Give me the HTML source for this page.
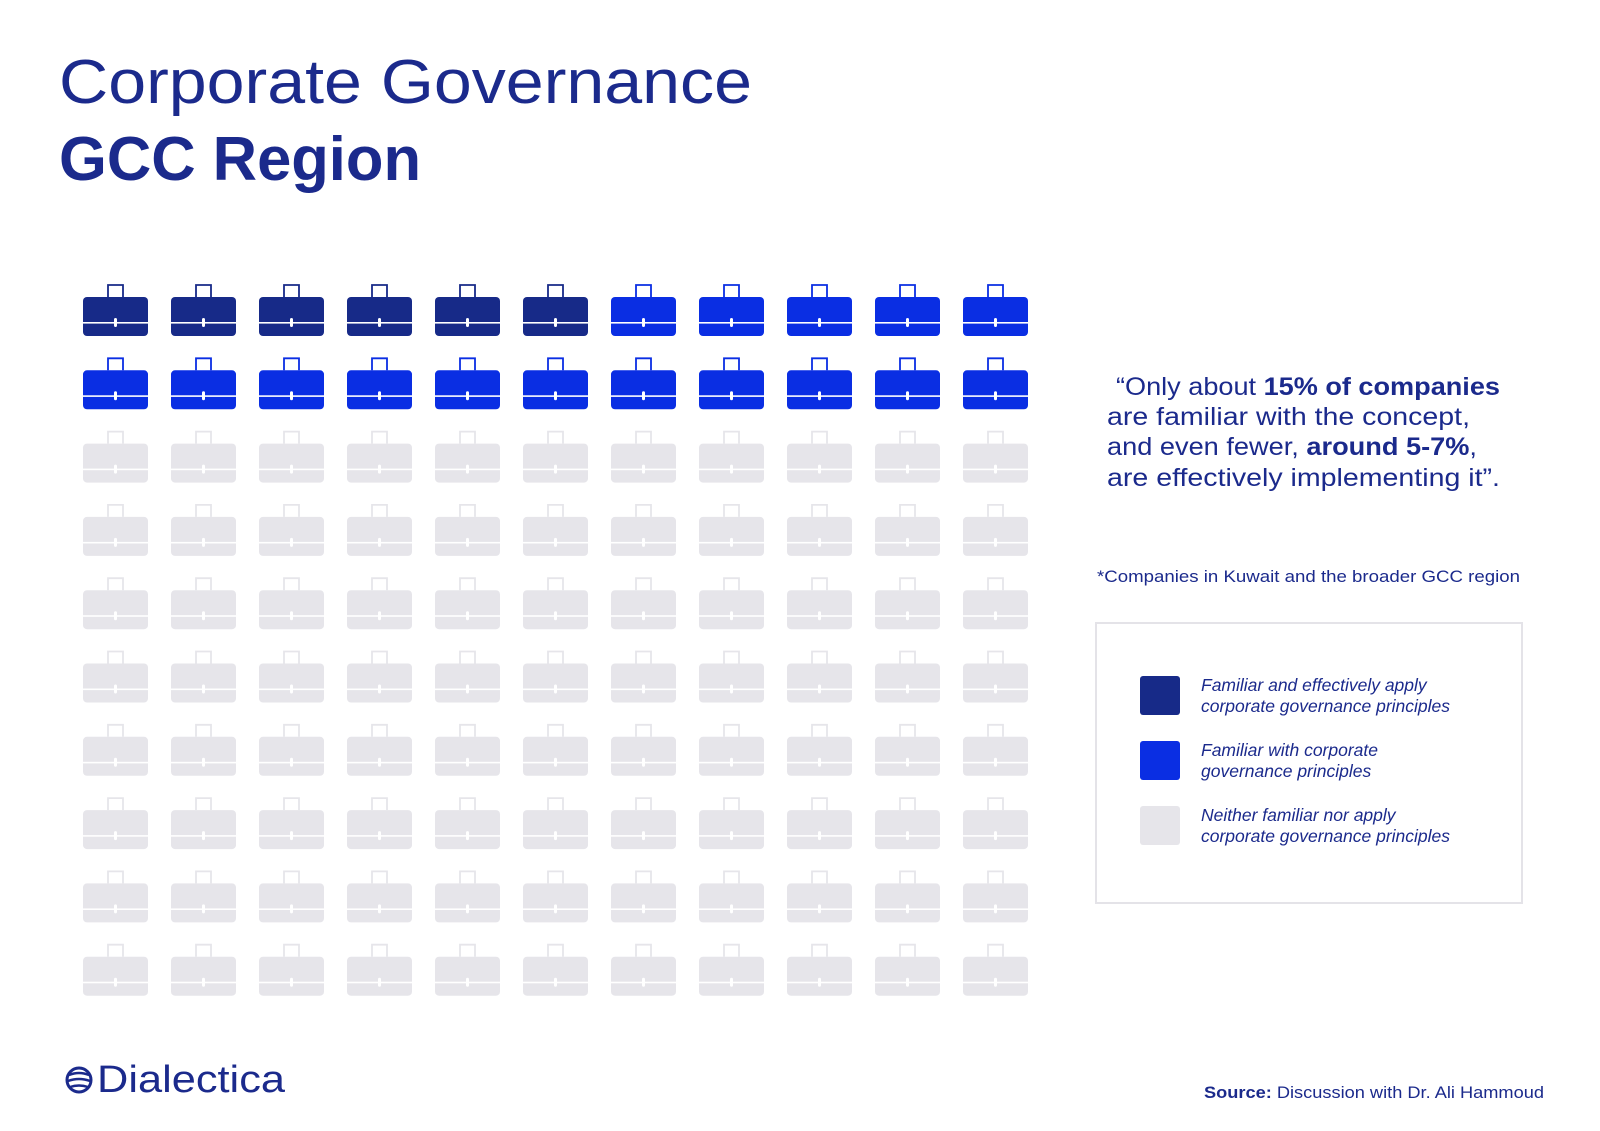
<!DOCTYPE html>
<html><head><meta charset="utf-8"><style>
html,body{margin:0;padding:0;background:#fff;}
svg{display:block;font-family:"Liberation Sans",sans-serif;}
</style></head><body>
<svg id="chart" width="1600" height="1131" viewBox="0 0 1600 1131" xmlns="http://www.w3.org/2000/svg">
<rect width="1600" height="1131" fill="#fff"/>
<text x="59" y="103" font-size="62" fill="#1b2a8c" textLength="693" lengthAdjust="spacingAndGlyphs">Corporate Governance</text>
<text x="59" y="180" font-size="62" font-weight="bold" fill="#1b2a8c" textLength="362" lengthAdjust="spacingAndGlyphs">GCC Region</text>
<g id="grid"></g>
<g fill="#1b2a8c" font-size="25">
<text x="1116" y="395" textLength="384" lengthAdjust="spacingAndGlyphs">“Only about <tspan font-weight="bold">15% of companies</tspan></text>
<text x="1107" y="425" textLength="363" lengthAdjust="spacingAndGlyphs">are familiar with the concept,</text>
<text x="1107" y="455" textLength="370" lengthAdjust="spacingAndGlyphs">and even fewer, <tspan font-weight="bold">around 5-7%</tspan>,</text>
<text x="1107" y="486" textLength="393" lengthAdjust="spacingAndGlyphs">are effectively implementing it”.</text>
</g>
<text x="1097" y="582" font-size="16.5" fill="#1b2a8c" textLength="423" lengthAdjust="spacingAndGlyphs">*Companies in Kuwait and the broader GCC region</text>
<rect x="1096" y="623" width="426" height="280" fill="none" stroke="#e4e3e8" stroke-width="2"/>
<g id="legend"></g>
<g>
<circle cx="79" cy="1080" r="12" fill="none" stroke="#1b2a8c" stroke-width="3"/>
<path d="M69 1075 q10 -4 20 0 M68 1081 q11 -4 22 0 M70 1087 q9 -3 18 0" stroke="#1b2a8c" stroke-width="2.5" fill="none"/>
<text x="97" y="1092" font-size="38" fill="#1b2a8c" textLength="188" lengthAdjust="spacingAndGlyphs">Dialectica</text>
</g>
<text x="1204" y="1098" font-size="17" fill="#1b2a8c" textLength="340" lengthAdjust="spacingAndGlyphs"><tspan font-weight="bold">Source:</tspan> Discussion with Dr. Ali Hammoud</text>
</svg>
<script>
const categories = ["Familiar and effectively apply corporate governance principles", "Familiar with corporate governance principles", "Neither familiar nor apply corporate governance principles"];
const counts = [6, 16, 88];
const legendLine1 = ["Familiar and effectively apply", "Familiar with corporate", "Neither familiar nor apply"];
const legendLine2 = ["corporate governance principles", "governance principles", "corporate governance principles"];
const colors = ["#172a88", "#0a2ee3", "#e6e5ea"];
const NS = "http://www.w3.org/2000/svg";
const cols = 11;
const colX = i => 83 + i * 88;
const rowY = r => 297 + r * 73.3;
function mk(tag, attrs, parent){const e=document.createElementNS(NS,tag);for(const k in attrs)e.setAttribute(k,attrs[k]);parent.appendChild(e);return e;}
const grid = document.getElementById('grid');
let idx = 0;
counts.forEach((n, ci) => {
  for (let k = 0; k < n; k++) {
    const c = idx % cols, r = Math.floor(idx / cols);
    const x = colX(c), y = rowY(r);
    const g = mk('g', {}, grid);
    
    
    mk('path', {d:`M${x+25} ${y} v-12 h15 v12`, fill:'none', stroke:colors[ci], 'stroke-width':1.8}, g);
    mk('rect', {x:x, y:y, width:65, height:39, rx:4, fill:colors[ci]}, g);
    mk('rect', {x:x, y:y+25, width:65, height:1.6, fill:'#fff'}, g);
    mk('rect', {x:x+31, y:y+21, width:3, height:9, rx:1.5, fill:'#fff'}, g);
    idx++;
  }
});
const legend = document.getElementById('legend');
const legY = [676, 741, 806];
categories.forEach((cat, i) => {
  const g = mk('g', {}, legend);
  
  
  mk('rect', {x:1140, y:legY[i], width:40, height:39, rx:3, fill:colors[i]}, g);
  const t1 = mk('text', {x:1201, y:legY[i]+15, 'font-size':17.5, 'font-style':'italic', fill:'#1b2a8c'}, g);
  t1.textContent = legendLine1[i];
  const t2 = mk('text', {x:1201, y:legY[i]+36, 'font-size':17.5, 'font-style':'italic', fill:'#1b2a8c'}, g);
  t2.textContent = legendLine2[i];
});
</script>
</body></html>
